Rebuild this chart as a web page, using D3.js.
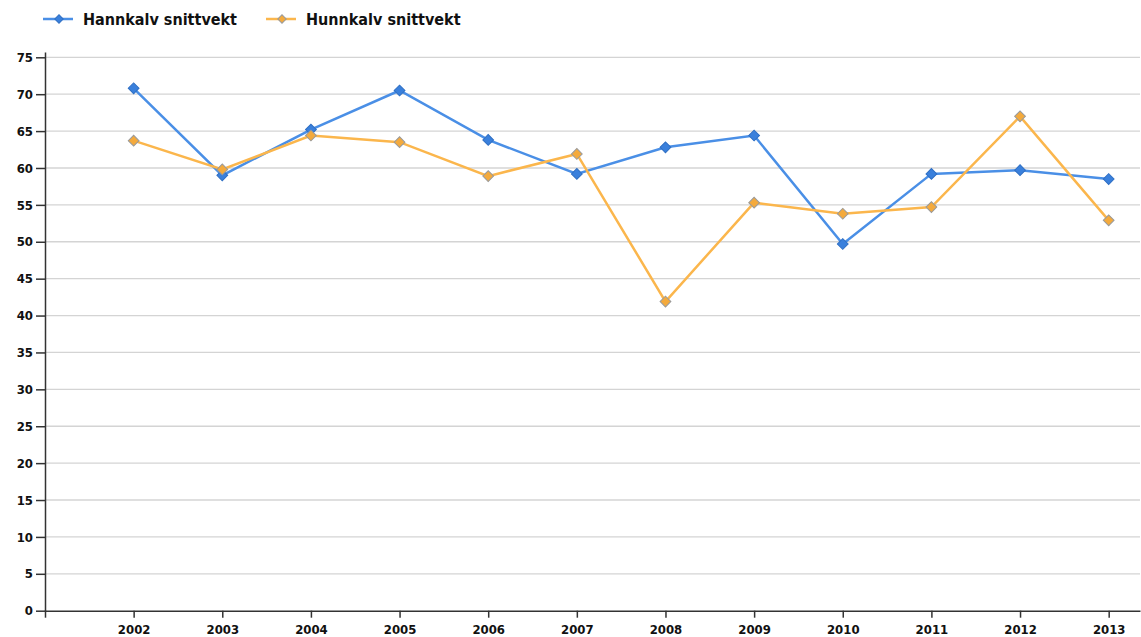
<!DOCTYPE html>
<html><head><meta charset="utf-8">
<script src="https://cdn.jsdelivr.net/npm/d3@7/dist/d3.min.js"></script>
<style>
body{margin:0;background:#fff;}
svg text{font-family:"DejaVu Sans Condensed","DejaVu Sans",sans-serif;font-weight:bold;fill:#111;}
</style></head><body>
<svg id="c" width="1141" height="637"></svg>
<script>
const years = [2002,2003,2004,2005,2006,2007,2008,2009,2010,2011,2012,2013];
const hannkalv = [70.8,59.0,65.2,70.5,63.8,59.2,62.8,64.4,49.7,59.2,59.7,58.5];
const hunnkalv = [63.7,59.8,64.4,63.5,58.9,61.9,41.9,55.3,53.8,54.7,67.0,52.9];
const seriesNames = ["Hannkalv snittvekt","Hunnkalv snittvekt"];
const yTicks = [0,5,10,15,20,25,30,35,40,45,50,55,60,65,70,75];

const colors = [
  {line:"#4a8fe6", fill:"#3a80dc", stroke:"#2f6fc4"},
  {line:"#fbb64c", fill:"#f4aa3c", stroke:"#9a9a9a"}
];

const svg = d3.select("#c");
const pL = 45, pR = 1140, pT = 52, pB = 610.7;
const x = d3.scaleLinear().domain([2001, 2001 + (pR-pL)/88.64]).range([pL, pR]);
const y = d3.scaleLinear().domain([0, 75 + (57.3-pT)/7.378]).range([pB, pT]);

// grid
svg.append("g").selectAll("line").data(yTicks.filter(d=>d>0)).join("line")
  .attr("x1", pL).attr("x2", pR)
  .attr("y1", d=>y(d)).attr("y2", d=>y(d))
  .attr("stroke", "#d4d4d4").attr("stroke-width", 1.3);

// y axis
const ya = svg.append("g").attr("transform", `translate(${pL},0)`)
  .call(d3.axisLeft(y).tickValues(yTicks).tickSize(9).tickPadding(3).tickSizeOuter(0));
ya.select(".domain").attr("stroke", "#333").attr("stroke-width", 1.5);
ya.selectAll(".tick line").attr("stroke", "#333").attr("stroke-width", 1.5);
ya.selectAll("text").style("font-size", "13px").attr("fill", "#111");

// x axis
const xa = svg.append("g").attr("transform", `translate(0,${pB})`)
  .call(d3.axisBottom(x).tickValues([2001].concat(years)).tickFormat(d=>d===2001?"":d).tickSize(7).tickPadding(7).tickSizeOuter(0));
xa.select(".domain").attr("stroke", "#333").attr("stroke-width", 1.5);
xa.selectAll(".tick line").attr("stroke", "#333").attr("stroke-width", 1.5);
xa.selectAll("text").style("font-size", "13px").attr("fill", "#111");

const data = [hannkalv, hunnkalv];
const line = d3.line().x((d,i)=>x(years[i])).y(d=>y(d));

data.forEach((vals, s) => {
  svg.append("path").datum(vals).attr("d", line)
    .attr("fill", "none").attr("stroke", colors[s].line).attr("stroke-width", 2.5);
});
data.forEach((vals, s) => {
  svg.append("g").selectAll("path").data(vals).join("path")
    .attr("d", d3.symbol().type(d3.symbolSquare).size(58))
    .attr("transform", (d,i)=>`translate(${x(years[i])},${y(d)}) rotate(45)`)
    .attr("fill", colors[s].fill).attr("stroke", colors[s].stroke).attr("stroke-width", 1);
});

// legend
const legX = [43, 266];
seriesNames.forEach((n, s) => {
  const g = svg.append("g").attr("transform", `translate(${legX[s]},19)`);
  g.append("line").attr("x1", 0).attr("x2", 30).attr("y1", 0).attr("y2", 0)
    .attr("stroke", colors[s].line).attr("stroke-width", 2.5);
  g.append("path").attr("d", d3.symbol().type(d3.symbolSquare).size(36))
    .attr("transform", "translate(16,0) rotate(45)")
    .attr("fill", colors[s].fill).attr("stroke", colors[s].stroke).attr("stroke-width", 1);
  g.append("text").attr("x", 40).attr("y", 5.5).style("font-size", "16px").text(n);
});
</script></body></html>
